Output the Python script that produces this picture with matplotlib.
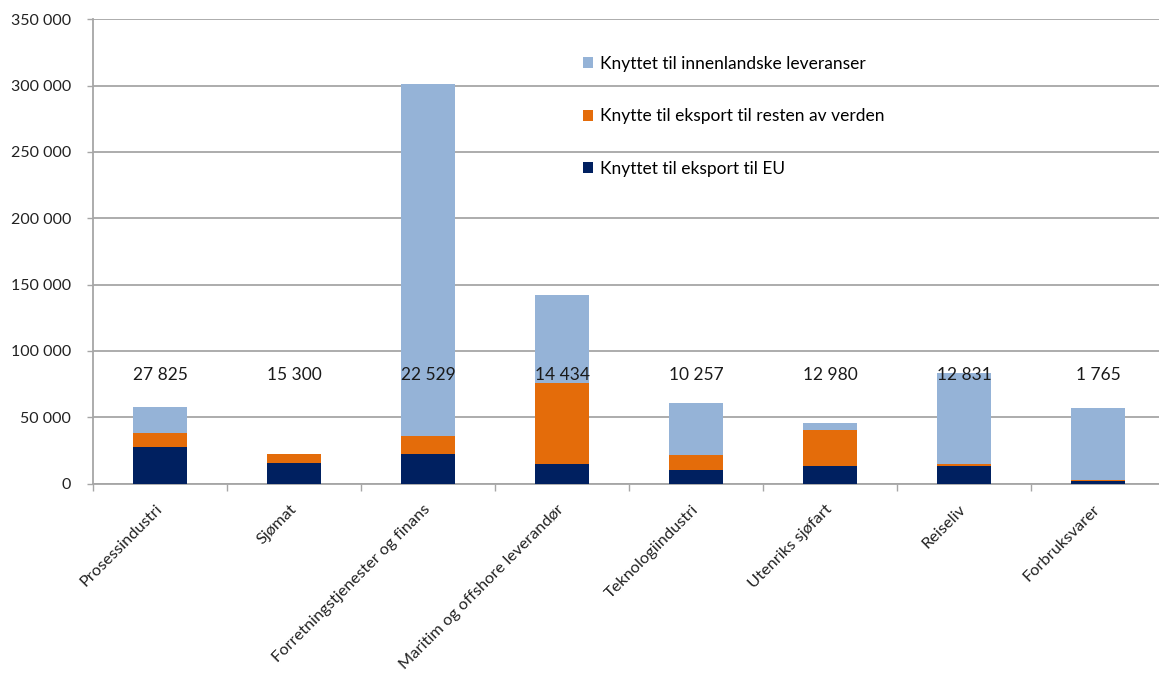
import matplotlib
matplotlib.use("Agg")
import matplotlib.pyplot as plt
import numpy as np

categories = ["Prosessindustri", "Sjømat", "Forretningstjenester og finans",
              "Maritim og offshore leverandør", "Teknologiindustri",
              "Utenriks sjøfart", "Reiseliv", "Forbruksvarer"]
eu = [27825, 15300, 22529, 14434, 10257, 12980, 12831, 1765]
resten = [10500, 6700, 13500, 61100, 11200, 27600, 1900, 900]
innenlandsk = [19600, 300, 265300, 66400, 39200, 5300, 68400, 54300]
series_names = ["Knyttet til eksport til EU",
                "Knytte til eksport til resten av verden",
                "Knyttet til innenlandske leveranser"]
yticks = [0, 50000, 100000, 150000, 200000, 250000, 300000, 350000]

plt.rcParams['font.family'] = ['Lato', 'DejaVu Sans']

W, H = 1159, 675
fig = plt.figure(figsize=(W / 100, H / 100), dpi=100)
left, right = 93.3 / W, 1165 / W
bottom, top = (H - 483.5) / H, (H - 19.3) / H
ax = fig.add_axes([left, bottom, right - left, top - bottom])

x = np.arange(len(categories))
c_eu, c_rest, c_inn = "#002060", "#E46C0A", "#95B3D7"
w = 0.4
eu_a = np.array(eu); r_a = np.array(resten); i_a = np.array(innenlandsk)
b1 = ax.bar(x, eu_a, w, color=c_eu, label=series_names[0], zorder=3)
b2 = ax.bar(x, r_a, w, bottom=eu_a, color=c_rest, label=series_names[1], zorder=3)
b3 = ax.bar(x, i_a, w, bottom=eu_a + r_a, color=c_inn, label=series_names[2], zorder=3)

for xi, v in zip(x, eu):
    s = f"{v:,}".replace(",", " ")
    ax.text(xi, 82000, s, ha="center", va="center", fontsize=12.5,
            color="#1a1a1a", zorder=4)

ax.set_xlim(-0.5, len(categories) - 0.5)
ax.set_ylim(0, 350000)
ax.set_yticks(yticks)
ax.set_yticklabels([f"{v:,}".replace(",", " ") for v in yticks], fontsize=11.5,
                   color="#222222")
ax.yaxis.grid(True, color="#a6a6a6", linewidth=1.3, zorder=0)
ax.set_axisbelow(True)
ax.tick_params(axis="y", length=4, width=1, color="#a6a6a6", pad=12)

ax.set_xticks(x)
ax.set_xticklabels(categories, rotation=45, ha="right", va="center",
                   rotation_mode="anchor", fontsize=11.8, color="#222222")
ax.tick_params(axis="x", which="major", length=0, pad=17)
ax.set_xticks(np.arange(-0.5, len(categories) - 0.4, 1), minor=True)
ax.tick_params(axis="x", which="minor", length=5, width=1, color="#a6a6a6")

for s in ["top", "right"]:
    ax.spines[s].set_visible(False)
for s in ["left", "bottom"]:
    ax.spines[s].set_color("#a6a6a6")
    ax.spines[s].set_linewidth(1.3)

handles = [b3, b2, b1]
leg = ax.legend(handles, [h.get_label() for h in handles],
                loc="upper left", bbox_to_anchor=((567 - 93.3) / (1165 - 93.3), 0.955),
                frameon=False, fontsize=12.5, handlelength=0.6, handleheight=0.6,
                handletextpad=0.4, labelspacing=2.1)

fig.savefig("out.png", dpi=100)
